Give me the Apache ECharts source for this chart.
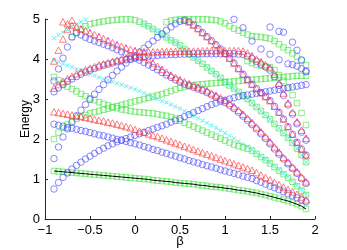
<!DOCTYPE html>
<html><head><meta charset="utf-8">
<script src="https://cdn.jsdelivr.net/npm/echarts@6/dist/echarts.min.js"></script>
<style>html,body{margin:0;padding:0;background:#fff}#c{width:347px;height:250px}</style>
</head><body><div id="c"></div>
<script>
const beta = [-0.9,-0.85,-0.8,-0.75,-0.7,-0.65,-0.6,-0.55,-0.5,-0.45,
-0.4,-0.35,-0.3,-0.25,-0.2,-0.15,-0.1,-0.05,0,0.05,
0.1,0.15,0.2,0.25,0.3,0.35,0.4,0.45,0.5,0.55,
0.6,0.65,0.7,0.75,0.8,0.85,0.9,0.95,1,1.05,
1.1,1.15,1.2,1.25,1.3,1.35,1.4,1.45,1.5,1.55,
1.6,1.65,1.7,1.75,1.8,1.85,1.9];
const xTickLabels = ['\u22121','\u22120.5','0','0.5','1','1.5','2'];
const yTickLabels = ['0','1','2','3','4','5'];

const ground = [1.20,1.19,1.18,1.17,1.16,1.15,1.14,1.13,1.12,1.11,
1.10,1.09,1.08,1.07,1.06,1.05,1.04,1.03,1.02,1.01,
1.00,0.99,0.97,0.96,0.95,0.94,0.93,0.91,0.90,0.89,
0.88,0.87,0.85,0.84,0.83,0.81,0.80,0.79,0.77,0.76,
0.74,0.72,0.71,0.69,0.67,0.65,0.62,0.60,0.57,0.54,
0.51,0.48,0.45,0.41,0.37,0.32,0.25];
const blueLow = [2.37,2.34,2.32,2.29,2.27,2.24,2.21,2.19,2.16,2.13,
2.10,2.08,2.05,2.02,1.99,1.97,1.94,1.91,1.88,1.85,
1.81,1.78,1.74,1.71,1.67,1.64,1.60,1.57,1.53,1.50,
1.46,1.43,1.40,1.36,1.33,1.30,1.27,1.23,1.20,1.17,
1.14,1.11,1.07,1.04,1.01,0.96,0.92,0.87,0.82,0.78,
0.73,0.68,0.63,0.58,0.53,0.48,0.43];
const redLow = [2.68,2.66,2.64,2.62,2.60,2.58,2.56,2.54,2.52,2.49,
2.47,2.45,2.42,2.40,2.37,2.34,2.31,2.28,2.24,2.20,
2.17,2.13,2.09,2.06,2.02,1.98,1.94,1.90,1.86,1.82,
1.78,1.74,1.70,1.66,1.62,1.58,1.54,1.50,1.46,1.42,
1.38,1.34,1.30,1.26,1.22,1.16,1.10,1.04,0.98,0.92,
0.86,0.80,0.74,0.68,0.62,0.55,0.48];
const blueRise = [0.75,0.91,1.04,1.15,1.25,1.34,1.42,1.50,1.57,1.64,
1.71,1.77,1.83,1.88,1.93,1.97,2.01,2.05,2.09,2.13,
2.17,2.21,2.25,2.29,2.33,2.37,2.42,2.46,2.51,2.56,
2.61,2.66,2.71,2.76,2.81,2.86,2.90,2.94,2.97,3.00,
3.03,3.06,3.08,3.10,3.12,3.14,3.16,3.18,3.20,3.22,
3.24,3.26,3.28,3.30,3.32,3.34,3.36];
const blueArc = [1.51,1.80,2.05,2.25,2.42,2.58,2.72,2.86,2.99,3.12,
3.24,3.36,3.48,3.59,3.70,3.80,3.90,3.99,4.08,4.17,
4.27,4.36,4.45,4.54,4.63,4.72,4.80,4.88,4.94,4.97,
4.93,4.85,4.76,4.66,4.56,4.46,4.36,4.25,4.14,4.02,
3.90,3.76,3.62,3.49,3.37,3.26,3.16,3.06,2.96,2.82,
2.67,2.50,2.31,2.12,1.92,1.75,1.60];
const arcRedFrom = 0.55;
const redRise = [3.27,3.36,3.44,3.51,3.57,3.63,3.68,3.73,3.77,3.81,
3.85,3.88,3.91,3.94,3.97,4.00,4.03,4.06,4.08,4.08,
4.05,3.98,3.90,3.82,3.74,3.67,3.60,3.54,3.48,3.43,
3.38,3.34,3.30,3.26,3.21,3.15,3.09,3.03,2.96,2.89,
2.81,2.72,2.62,2.52,2.41,2.30,2.18,2.06,1.93,1.80,
1.67,1.54,1.42,1.30,1.18,1.05,0.93];
const redFlat = [null,null,4.93,4.88,4.84,4.80,4.75,4.71,4.66,4.61,
4.56,4.51,4.46,4.41,4.36,4.32,4.28,4.24,4.21,4.19,
4.18,4.18,4.18,4.18,4.19,4.19,4.19,4.19,4.20,4.20,
4.20,4.20,4.20,4.21,4.21,4.21,4.21,4.21,4.21,4.21,
4.21,4.21,4.20,4.15,4.08,4.00,3.93,3.86,3.78,3.62,
3.40,3.15,2.90,2.67,2.43,2.22,2.02];
const blueFlat = [3.18,3.28,3.36,3.44,3.50,3.56,3.62,3.67,3.72,3.76,
3.80,3.84,3.87,3.90,3.93,3.96,3.98,4.00,4.02,4.04,
4.06,4.07,4.08,4.09,4.10,4.10,4.11,4.11,4.12,4.12,
4.12,4.13,4.13,4.13,4.13,4.13,4.13,4.13,4.13,4.13,
4.13,4.12,4.11,4.07,4.01,3.94,3.87,3.80,3.72,3.56,
3.34,3.09,2.85,2.62,2.38,2.17,1.97];
const blueBend = [3.45,3.75,4.02,4.30,4.55,4.66,4.60,4.54,4.49,4.45,
4.41,4.37,4.33,4.28,4.23,4.18,4.13,4.08,4.03,3.97,
3.91,3.85,3.79,3.73,3.66,3.60,3.54,3.48,3.42,3.37,
3.33,3.29,3.25,3.21,3.16,3.10,3.04,2.98,2.91,2.84,
2.76,2.67,2.57,2.47,2.36,2.25,2.13,2.01,1.88,1.75,
1.62,1.50,1.38,1.26,1.14,1.01,0.89];
const redSteep = [[-0.9,3.95],[-0.85,4.22],[-0.8,4.50],[-0.75,4.75],[-0.7,4.97]];
const cyanLong = [3.97,3.93,3.88,3.84,3.80,3.75,3.71,3.66,3.62,3.58,
3.54,3.50,3.47,3.43,3.39,3.36,3.32,3.28,3.24,3.20,
3.15,3.10,3.05,3.00,2.95,2.91,2.86,2.81,2.76,2.70,
2.64,2.58,2.52,2.46,2.40,2.34,2.28,2.21,2.15,2.08,
2.01,1.94,1.87,1.80,1.73,1.65,1.57,1.49,1.41,1.32,
1.23,1.14,1.05,0.95,0.84,0.73,0.62];
const greenRise = [2.00,2.16,2.28,2.36,2.44,2.51,2.56,2.60,2.64,2.67,
2.70,2.73,2.76,2.79,2.82,2.85,2.88,2.91,2.94,2.97,
3.00,3.03,3.06,3.09,3.12,3.16,3.20,3.24,3.28,3.31,
3.33,3.35,3.36,3.37,3.38,3.39,3.40,3.41,3.42,3.43,
3.44,3.45,3.46,3.47,3.48,3.49,3.50,3.51,3.52,3.53,
3.54,3.55,3.56,3.57,3.58,3.58,3.58];
const greenFall = [3.55,3.47,3.39,3.31,3.25,3.19,3.13,3.07,3.02,2.97,
2.92,2.88,2.84,2.80,2.77,2.74,2.72,2.70,2.68,2.67,
2.66,2.65,2.64,2.62,2.60,2.58,2.55,2.51,2.46,2.41,
2.36,2.31,2.26,2.21,2.16,2.11,2.06,2.01,1.96,1.91,
1.86,1.82,1.79,1.76,1.71,1.63,1.55,1.47,1.39,1.30,
1.21,1.12,1.03,0.93,0.82,0.71,0.60];
const greenCap = [null,null,null,null,4.55,4.65,4.75,4.82,4.87,4.90,
4.92,4.94,4.96,4.97,4.98,4.99,4.99,4.99,4.97,4.93,
4.88,4.82,4.75,4.68,4.61,4.54,4.47,4.41,4.34,4.24,
4.13,4.04,3.96,3.88,3.79,3.70,3.62,3.53,3.43,3.34,
3.26,3.18,3.09,3.00,2.90,2.80,2.70,2.60,2.49,2.38,
2.27,2.15,2.03,1.90,1.76,1.60,1.42];
const capCyanFrom = 0.1;
const cyanCorner = [[-0.9,4.52],[-0.85,4.60],[-0.8,4.67],[-0.75,4.74],[-0.7,4.81],[-0.65,4.87],[-0.6,4.93],[-0.55,4.98]];
const greenTop = [[0.35,4.92],[0.4,4.96],[0.45,4.98],[0.5,4.99],[0.55,4.99],[0.6,4.99],[0.65,4.99],[0.7,4.99],[0.75,4.99],[0.8,4.99],[0.85,4.98],[0.9,4.97],[0.95,4.94],[1.0,4.89],[1.05,4.82],[1.1,4.76],[1.15,4.71],[1.2,4.66],[1.25,4.61],[1.3,4.57],[1.35,4.56],[1.4,4.55],[1.45,4.53],[1.5,4.51],[1.55,4.45],[1.6,4.37],[1.65,4.29],[1.7,4.22],[1.75,4.14],[1.8,4.06],[1.85,3.96],[1.9,3.85]];
const greenSteep = [[1.25,3.95],[1.3,3.9],[1.35,3.86],[1.4,3.83],[1.45,3.81],[1.5,3.79],[1.55,3.72],[1.6,3.6],[1.65,3.45],[1.7,3.28],[1.75,3.1],[1.8,2.9],[1.85,2.65],[1.9,2.35]];
const blueUpperA = [[1.1,4.99],[1.2,4.78],[1.3,4.45],[1.4,4.25],[1.5,4.12],[1.6,3.98],[1.7,3.88],[1.75,3.86],[1.8,3.82],[1.85,3.76],[1.9,3.68]];
const blueUpperB = [[1.5,4.8],[1.6,4.69],[1.65,4.67],[1.75,4.42],[1.8,4.22],[1.85,3.98],[1.9,3.7]];
const magentaFlatRanges = [[-0.6,0.1],[1.25,1.9]];
const magentaRiseRanges = [[0.15,1.9]];
const magentaArcRanges = [[1.2,1.9]];

function pts(vals, ranges, everyOther) {
  const out = [];
  vals.forEach((v, i) => {
    if (v == null) return;
    if (everyOther && i % 2) return;
    const b = beta[i];
    if (ranges && !ranges.some(r => b >= r[0] - 1e-9 && b <= r[1] + 1e-9)) return;
    out.push([b, v]);
  });
  return out;
}
const XPATH = 'path://M0.12,0L0.5,0.38L0.88,0L1,0.12L0.62,0.5L1,0.88L0.88,1L0.5,0.62L0.12,1L0,0.88L0.38,0.5L0,0.12Z';
const styles = {
  blue: {symbol:'circle', symbolSize:6.5, itemStyle:{color:'rgba(0,0,0,0)', borderColor:'#4545ff', borderWidth:0.8}},
  red: {symbol:'triangle', symbolSize:[7,6.5], itemStyle:{color:'rgba(0,0,0,0)', borderColor:'#ff3535', borderWidth:0.8}},
  green: {symbol:'rect', symbolSize:5.5, itemStyle:{color:'rgba(0,0,0,0)', borderColor:'#3ee43e', borderWidth:0.8}},
  cyan: {symbol:XPATH, symbolSize:4.5, itemStyle:{color:'#3ae6e6'}},
  magenta: {symbol:'circle', symbolSize:2.2, symbolOffset:[0,-2], itemStyle:{color:'#ff33ff'}}
};
function sc(data, kind, z) {
  return Object.assign({type:'scatter', data, silent:true, animation:false, z:z}, styles[kind]);
}
const series = [
  sc(pts(ground), 'green', 2),
  sc(pts(greenRise), 'green', 2),
  sc(pts(greenFall), 'green', 2),
  sc(pts(greenCap), 'green', 2),
  sc(greenTop, 'green', 2),
  sc(greenSteep, 'green', 2),
  sc(pts(cyanLong), 'cyan', 3),
  sc(pts(greenCap, [[capCyanFrom, 2]]), 'cyan', 3),
  sc(cyanCorner, 'cyan', 3),
  sc(pts(blueLow), 'blue', 4),
  sc(pts(blueRise), 'blue', 4),
  sc(pts(blueArc), 'blue', 4),
  sc(pts(blueFlat), 'blue', 4),
  sc(pts(blueBend), 'blue', 4),
  sc(blueUpperA, 'blue', 4),
  sc(blueUpperB, 'blue', 4),
  sc(pts(redLow), 'red', 5),
  sc(pts(redRise), 'red', 5),
  sc(pts(redFlat), 'red', 5),
  sc(pts(blueArc, [[arcRedFrom, 2]]), 'red', 5),
  sc(redSteep, 'red', 5),
  sc(pts(redFlat, magentaFlatRanges, true), 'magenta', 6),
  sc(pts(redRise, magentaRiseRanges, true), 'magenta', 6),
  sc(pts(blueArc, magentaArcRanges, true), 'magenta', 6),
  {type:'line', data:pts(ground), symbol:'none', silent:true, animation:false, z:7,
   lineStyle:{color:'#000', width:1}}
];
const axisCol = '#262626';
const font = 'Liberation Sans, Arial, sans-serif';
const chart = echarts.init(document.getElementById('c'), null, {renderer:'canvas'});
chart.setOption({
  animation:false,
  backgroundColor:'#fff',
  grid:{left:45, right:32, top:19, bottom:31, containLabel:false, outerBoundsMode:'none'},
  xAxis:{type:'value', min:-1, max:2, interval:0.5,
    axisLine:{onZero:false, lineStyle:{color:axisCol, width:1}},
    axisTick:{inside:true, length:3, lineStyle:{color:axisCol}},
    splitLine:{show:false},
    axisLabel:{color:'#000', fontSize:13, fontFamily:font, margin:5,
      formatter:v => xTickLabels[Math.round((v + 1) / 0.5)]},
    name:'\u03b2', nameLocation:'middle', nameGap:16, nameMoveOverlap:false,
    nameTextStyle:{color:'#000', fontSize:13, fontFamily:font}},
  yAxis:{type:'value', min:0, max:5, interval:1,
    axisLine:{show:true, onZero:false, lineStyle:{color:axisCol, width:1}},
    axisTick:{show:true, inside:true, length:3, lineStyle:{color:axisCol}},
    splitLine:{show:false},
    axisLabel:{color:'#000', fontSize:13, fontFamily:font, margin:5,
      formatter:v => yTickLabels[Math.round(v)]},
    name:'Energy', nameLocation:'middle', nameGap:13, nameRotate:90, nameMoveOverlap:false,
    nameTextStyle:{color:'#000', fontSize:12, fontFamily:font}},
  series
});
</script></body></html>
